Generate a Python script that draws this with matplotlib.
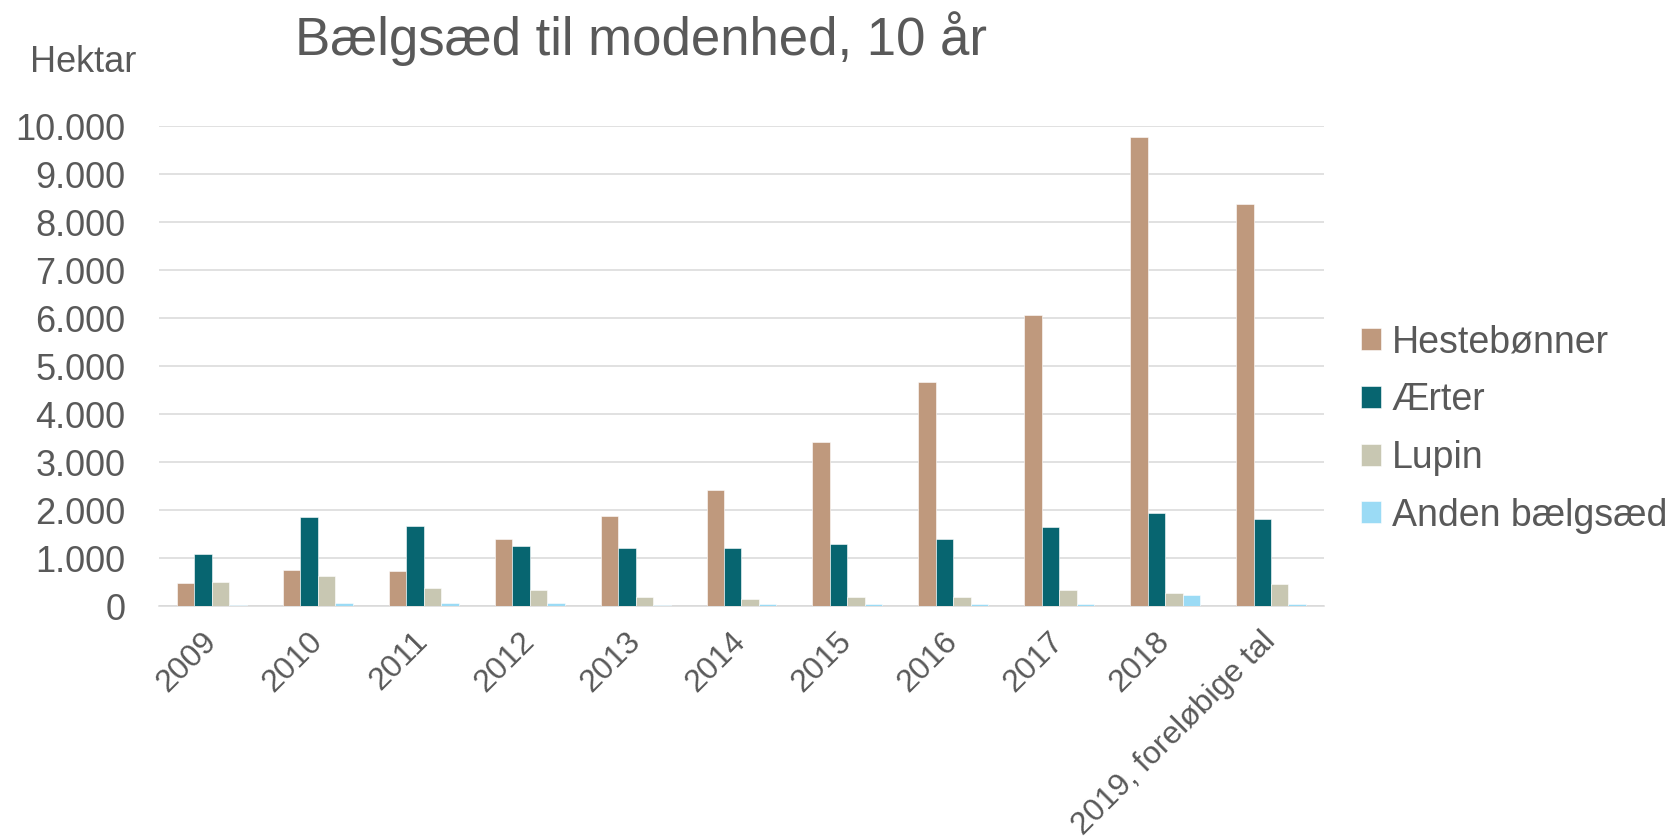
import matplotlib
matplotlib.use("Agg")
import matplotlib.pyplot as plt
import numpy as np
from matplotlib.ticker import FuncFormatter

plt.rcParams["font.family"] = ["Liberation Sans", "DejaVu Sans"]

TEXT_COLOR = "#595959"
GRID_COLOR = "#D9D9D9"

years = ["2009", "2010", "2011", "2012", "2013", "2014", "2015", "2016",
         "2017", "2018", "2019, foreløbige tal"]
series_names = ["Hestebønner", "Ærter", "Lupin", "Anden bælgsæd"]
series_colors = ["#BF997D", "#076570", "#C8C7B2", "#9BDBF5"]

hestebonner = [480, 760, 735, 1405, 1870, 2420, 3425, 4665, 6070, 9770, 8380]
aerter = [1085, 1860, 1675, 1260, 1215, 1200, 1300, 1405, 1650, 1930, 1805]
lupin = [505, 630, 385, 335, 195, 150, 190, 190, 335, 275, 460]
anden = [15, 65, 65, 65, 20, 40, 35, 40, 40, 225, 40]

series = [hestebonner, aerter, lupin, anden]

fig = plt.figure(figsize=(16.7, 8.39), dpi=100)
ax = fig.add_axes([0.0952, 0.2777, 0.6976, 0.5721])

x = np.arange(len(years))
bar_w = 0.165
for i, (name, vals, col) in enumerate(zip(series_names, series, series_colors)):
    offset = (i - 1.5) * bar_w
    ax.bar(x + offset, vals, width=bar_w, color=col, label=name, zorder=3,
           edgecolor="white", linewidth=0.4)

ax.set_xlim(-0.5, len(years) - 0.5)
ax.set_ylim(0, 10000)
ax.set_yticks(np.arange(0, 10001, 1000))
ax.yaxis.set_major_formatter(FuncFormatter(lambda v, p: f"{int(v):,}".replace(",", ".")))
ax.grid(axis="y", color=GRID_COLOR, linewidth=1.1, zorder=0)
ax.set_axisbelow(True)
for side in ["top", "right", "left"]:
    ax.spines[side].set_visible(False)
ax.spines["bottom"].set_color(GRID_COLOR)
ax.spines["bottom"].set_linewidth(1.1)

ax.tick_params(axis="y", length=0, pad=24, labelsize=26, labelcolor=TEXT_COLOR)
ax.tick_params(axis="x", length=0, pad=22, labelsize=23, labelcolor=TEXT_COLOR)
ax.set_xticks(x)
ax.set_xticklabels(years, rotation=45, ha="right", va="center",
                   rotation_mode="anchor")

fig.text(0.384, 1 - 55 / 839, "Bælgsæd til modenhed, 10 år", ha="center",
         va="baseline", fontsize=38, color=TEXT_COLOR)
fig.text(30 / 1670, 1 - 72 / 839, "Hektar", ha="left", va="baseline",
         fontsize=26, color=TEXT_COLOR)

fig.legend(loc="center left", bbox_to_anchor=(1361 / 1670, 1 - 429 / 839),
           frameon=False, fontsize=27, borderpad=0, borderaxespad=0,
           handlelength=0.52, handleheight=0.52, handletextpad=0.3,
           labelspacing=0.58, labelcolor=TEXT_COLOR)

fig.savefig("out.png", dpi=100)
